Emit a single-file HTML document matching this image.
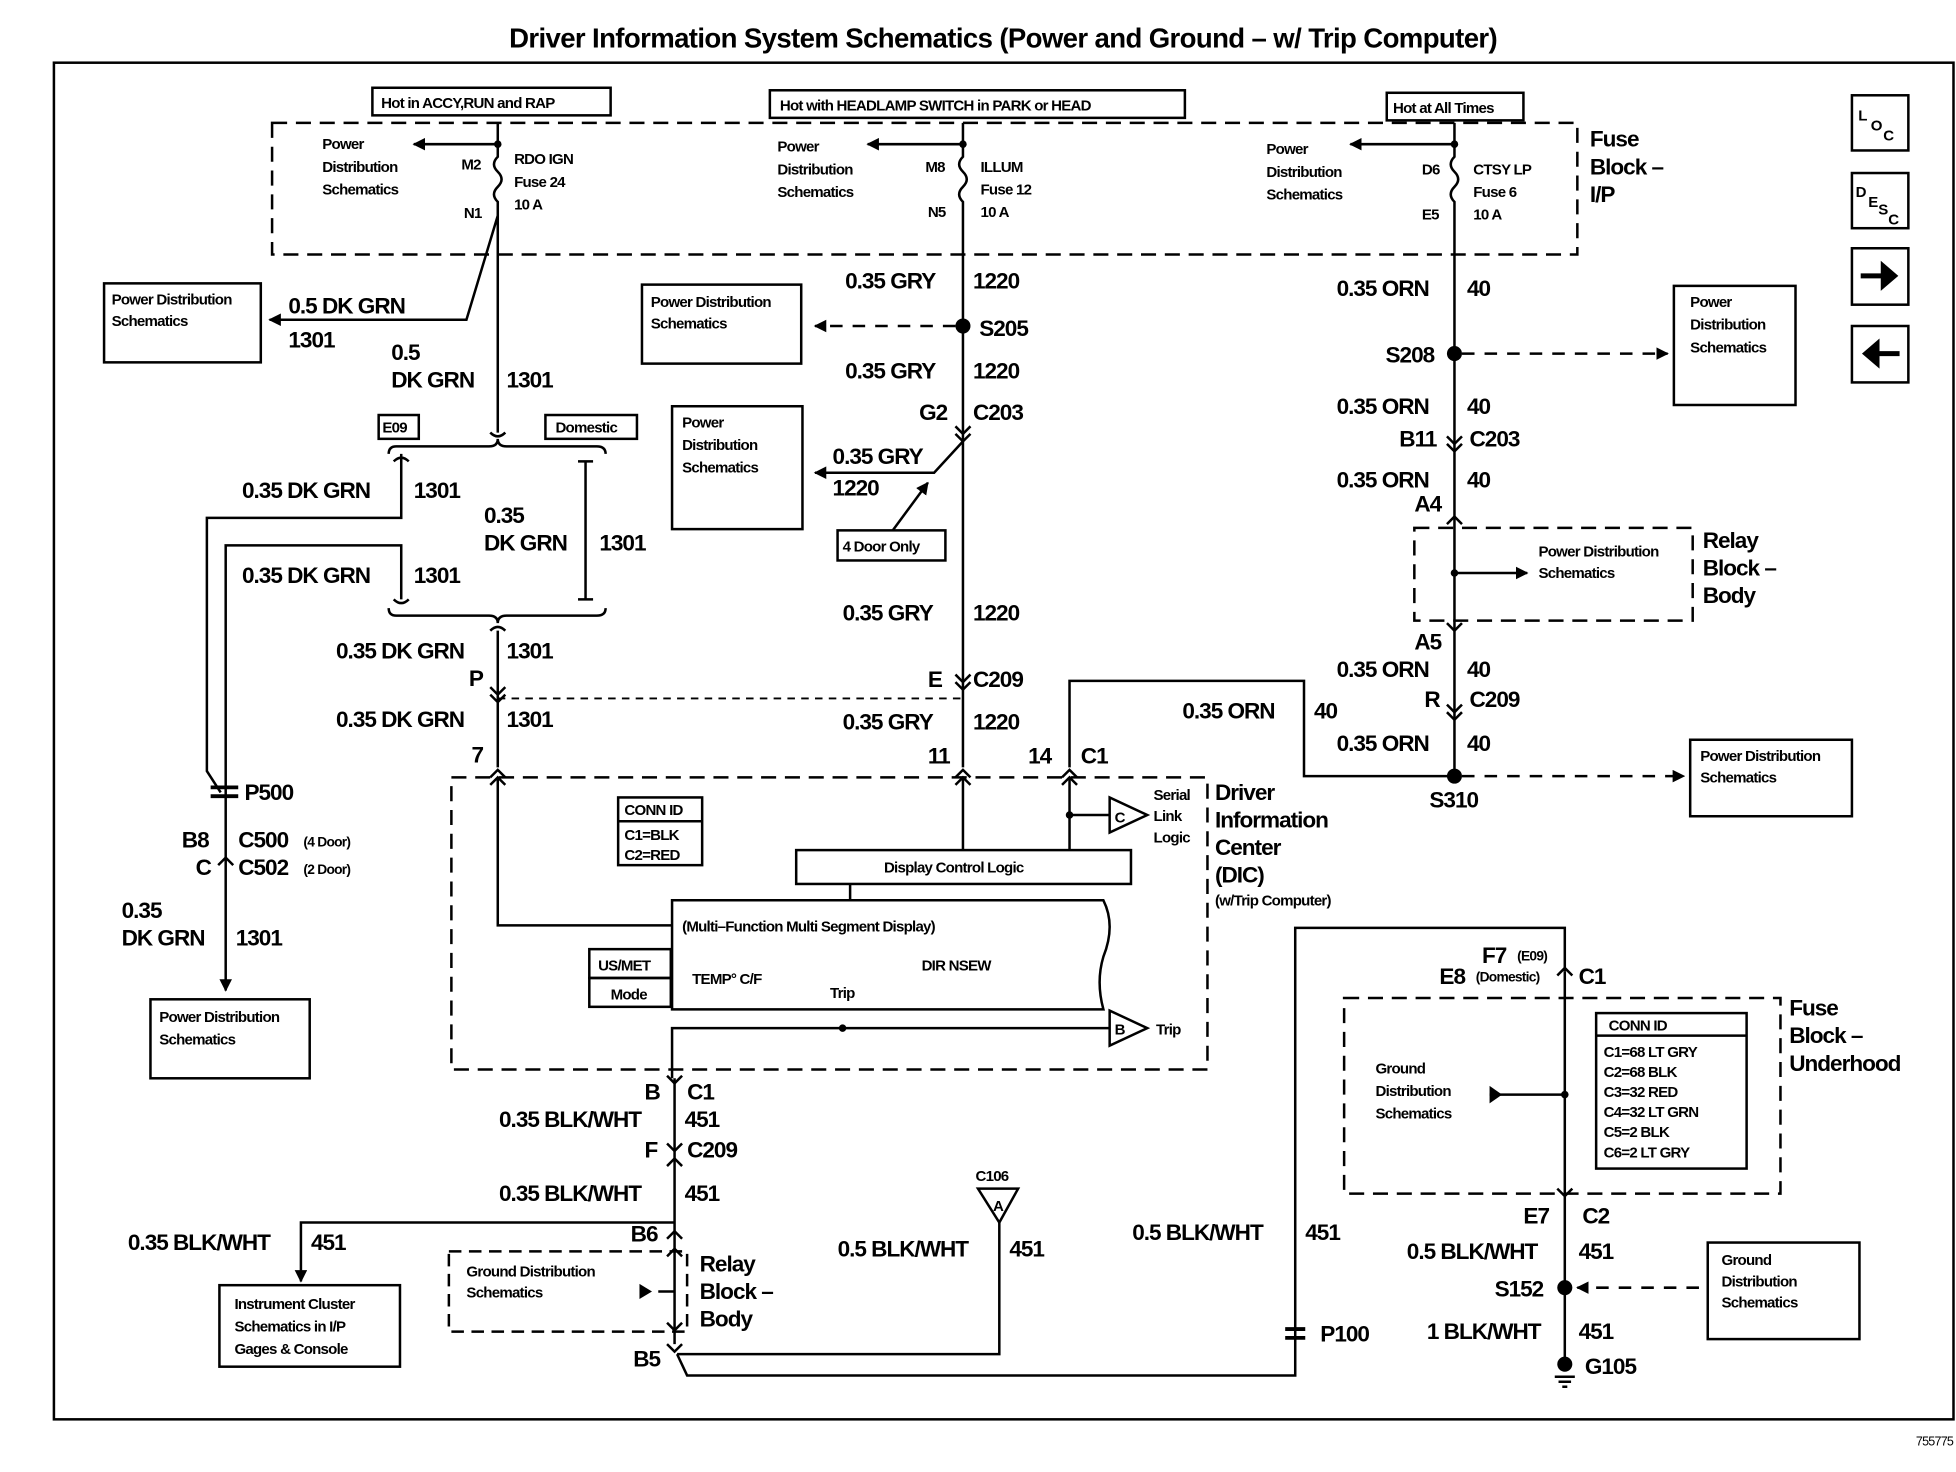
<!DOCTYPE html>
<html><head><meta charset="utf-8"><style>
html,body{margin:0;padding:0;background:#fff}
svg{display:block}
text{font-family:"Liberation Sans",sans-serif;fill:#000}
.b{font-weight:bold;font-size:18px;letter-spacing:-0.8px}
.s{font-size:12px;font-weight:bold;letter-spacing:-0.6px}
</style></head><body>
<svg width="1956" height="1472" viewBox="0 0 1560 1174" preserveAspectRatio="none" xmlns="http://www.w3.org/2000/svg">
<defs>
<marker id="ar" markerWidth="10" markerHeight="10" refX="9" refY="5" orient="auto" markerUnits="userSpaceOnUse"><path d="M0,0 L10,5 L0,10 z"/></marker>
</defs>
<g stroke="#000" stroke-width="2" fill="none">
<rect x="43" y="50" width="1515" height="1082"/>
<rect x="297" y="70" width="190" height="22"/>
<rect x="614" y="72" width="331" height="22"/>
<rect x="1106" y="74" width="109" height="22"/>
<rect x="217" y="98" width="1041" height="105" stroke-dasharray="12,7"/>
<path d="M397,98 V125 q-6,6 0,12 q6,6 0,12 q-6,6 0,12 V345"/>
<path d="M397,115 H330" marker-end="url(#ar)"/>
<path d="M397,172 L372,255 H215" marker-end="url(#ar)"/>
<rect x="83" y="226" width="125" height="63"/>
<path d="M768,98 V125 q-6,6 0,12 q6,6 0,12 q-6,6 0,12 V612"/>
<path d="M768,115 H692" marker-end="url(#ar)"/>
<path d="M762,260 H650" stroke-dasharray="10,8" marker-end="url(#ar)"/>
<rect x="512" y="227" width="127" height="63"/>
<path d="M762,340 l6,6 l6,-6 M762,346 l6,6 l6,-6"/>
<path d="M768,352 L745,377 H650" marker-end="url(#ar)"/>
<rect x="536" y="324" width="104" height="98"/>
<path d="M712,423 L740,385" marker-end="url(#ar)"/>
<rect x="668" y="423" width="86" height="24"/>
<path d="M1160,98 V125 q-6,6 0,12 q6,6 0,12 q-6,6 0,12 V618"/>
<path d="M1160,115 H1077" marker-end="url(#ar)"/>
<path d="M1166,282 H1330" stroke-dasharray="10,8" marker-end="url(#ar)"/>
<rect x="1335" y="228" width="97" height="95"/>
<path d="M1154,348 l6,6 l6,-6 M1154,354 l6,6 l6,-6"/>
<path d="M1154,418 l6,-6 l6,6"/>
<rect x="1128" y="421" width="222" height="74" stroke-dasharray="12,7"/>
<path d="M1160,457 H1218" marker-end="url(#ar)"/>
<path d="M1154,497 l6,6 l6,-6"/>
<path d="M1154,562 l6,6 l6,-6 M1154,568 l6,6 l6,-6"/>
<path d="M1166,619 H1343" stroke-dasharray="10,8" marker-end="url(#ar)"/>
<rect x="1348" y="590" width="129" height="61"/>
<path d="M853,612 V543 H1040 V619 H1160"/>
<rect x="302" y="331" width="32" height="19"/>
<rect x="435" y="331" width="73" height="19"/>
<path d="M391,345 q6,6 12,0"/>
<path d="M310,362 q0,-6 6,-6 H390 q7,0 7,-6 q0,6 7,6 H476 q7,0 7,6"/>
<path d="M320,362 V413 H165 V615 L176,632"/>
<path d="M314,368 q6,-6 12,0"/>
<path d="M320,478 V435 H180 V790" marker-end="url(#ar)"/>
<path d="M467,368 V478 M461,368 H473 M461,478 H473"/>
<path d="M314,478 q6,6 12,0"/>
<path d="M310,485 q0,6 6,6 H390 q7,0 7,6 q0,-6 7,-6 H476 q7,0 7,-6"/>
<path d="M391,503 q6,-6 12,0"/>
<path d="M397,503 V612"/>
<path d="M391,548 l6,6 l6,-6 M391,554 l6,6 l6,-6"/>
<path d="M397,557 H768" stroke-dasharray="6,5" stroke-width="1.5"/>
<path d="M762,538 l6,6 l6,-6 M762,544 l6,6 l6,-6"/>
<rect x="120" y="797" width="127" height="63"/>
<path d="M168,628 H190 M168,635 H190" stroke-width="3"/>
<path d="M174,690 l6,-6 l6,6"/>
<rect x="360" y="620" width="603" height="233" stroke-dasharray="12,7"/>
<path d="M391,626 l6,-6 l6,6 M762,626 l6,-6 l6,6 M847,626 l6,-6 l6,6 M762,620 l6,-6 l6,6 M847,620 l6,-6 l6,6 M391,620 l6,-6 l6,6"/>
<path d="M397,620 V738 H536"/>
<path d="M768,620 V678"/>
<path d="M853,620 V678 M853,650 H885"/>
<path d="M885,636 V664 L915,650 Z"/>
<rect x="635" y="678" width="267" height="27"/>
<path d="M678,705 V718"/>
<path d="M536,805 V718 H880 q10,20 0,45 q-6,20 0,42 Z"/>
<rect x="470" y="757" width="65" height="23"/><rect x="470" y="780" width="65" height="23"/>
<rect x="493" y="636" width="67" height="54"/><path d="M493,655 H560"/>
<path d="M885,806 V834 L915,820 Z"/>
<path d="M885,820 H536 V860"/>
<path d="M538,860 V1072"/>
<path d="M532,858 l6,6 l6,-6"/>
<path d="M532,912 l6,6 l6,-6 M532,930 l6,-6 l6,6"/>
<path d="M532,988 l6,-6 l6,6"/>
<path d="M538,975 H240 V1022" marker-end="url(#ar)"/>
<rect x="175" y="1025" width="144" height="65"/>
<rect x="358" y="998" width="190" height="64" stroke-dasharray="10,6"/>
<path d="M532,1002 l6,-6 l6,6 M532,1055 l6,6 l6,-6"/>
<path d="M538,1030 H525"/>
<path d="M532,1072 l6,6 l6,-6"/>
<path d="M540,1080 L548,1097 H1033 V740 H1248 V775"/>
<path d="M540,1080 H797 V975"/>
<path d="M780,948 H812 L797,975 Z"/>
<path d="M1025,1060 H1041 M1025,1067 H1041" stroke-width="3"/>
<path d="M1242,778 l6,-6 l6,6"/>
<rect x="1072" y="796" width="348" height="156" stroke-dasharray="12,7"/>
<path d="M1248,775 V1085"/>
<path d="M1248,873 H1188"/>
<rect x="1273" y="808" width="120" height="124"/><path d="M1273,826 H1393"/>
<path d="M1242,948 l6,6 l6,-6"/>
<path d="M1355,1027 H1258" stroke-dasharray="10,8" marker-end="url(#ar)"/>
<rect x="1362" y="991" width="121" height="77"/>
<path d="M1240,1098 H1256 M1243,1102 H1253 M1246,1106 H1250"/>
<rect x="1477" y="76" width="45" height="44"/><rect x="1477" y="138" width="45" height="44"/>
<rect x="1477" y="198" width="45" height="45"/><rect x="1477" y="260" width="45" height="45"/>
</g>
<g>
<circle cx="768" cy="260" r="6"/><circle cx="1160" cy="282" r="6"/><circle cx="1160" cy="619" r="6"/>
<circle cx="1248" cy="1027" r="6"/><circle cx="1248" cy="1088" r="6"/>
<circle cx="397" cy="115" r="3"/><circle cx="768" cy="115" r="3"/><circle cx="1160" cy="115" r="3"/>
<circle cx="1160" cy="457" r="3"/><circle cx="853" cy="650" r="3"/><circle cx="672" cy="820" r="3"/><circle cx="1248" cy="873" r="3"/>
<path d="M1188,866 L1198,873 L1188,880 Z"/><path d="M510,1024 L520,1030 L510,1036 Z"/>
<path d="M1484,218 H1500 V208 L1514,220 L1500,232 V222 H1484 Z"/>
<path d="M1515,280 H1499 V270 L1485,282 L1499,294 V284 H1515 Z"/>
</g>
<text x="800" y="38" text-anchor="middle" style="font-size:22px;font-weight:bold;letter-spacing:-0.5px">Driver Information System Schematics (Power and Ground – w/ Trip Computer)</text>
<g class="s">
<text x="304" y="86">Hot in ACCY,RUN and RAP</text>
<text x="622" y="88">Hot with HEADLAMP SWITCH in PARK or HEAD</text>
<text x="1111" y="90">Hot at All Times</text>
<text x="257" y="119">Power</text><text x="257" y="137">Distribution</text><text x="257" y="155">Schematics</text>
<text x="368" y="135">M2</text><text x="370" y="174">N1</text>
<text x="410" y="131">RDO IGN</text><text x="410" y="149">Fuse 24</text><text x="410" y="167">10 A</text>
<text x="620" y="121">Power</text><text x="620" y="139">Distribution</text><text x="620" y="157">Schematics</text>
<text x="738" y="137">M8</text><text x="740" y="173">N5</text>
<text x="782" y="137">ILLUM</text><text x="782" y="155">Fuse 12</text><text x="782" y="173">10 A</text>
<text x="1010" y="123">Power</text><text x="1010" y="141">Distribution</text><text x="1010" y="159">Schematics</text>
<text x="1134" y="139">D6</text><text x="1134" y="175">E5</text>
<text x="1175" y="139">CTSY LP</text><text x="1175" y="157">Fuse 6</text><text x="1175" y="175">10 A</text>
<text x="89" y="243">Power Distribution</text><text x="89" y="260">Schematics</text>
<text x="519" y="245">Power Distribution</text><text x="519" y="262">Schematics</text>
<text x="544" y="341">Power</text><text x="544" y="359">Distribution</text><text x="544" y="377">Schematics</text>
<text x="672" y="440">4 Door Only</text>
<text x="305" y="345">E09</text><text x="443" y="345">Domestic</text>
<text x="1348" y="245">Power</text><text x="1348" y="263">Distribution</text><text x="1348" y="281">Schematics</text>
<text x="1227" y="444">Power Distribution</text><text x="1227" y="461">Schematics</text>
<text x="1356" y="607">Power Distribution</text><text x="1356" y="624">Schematics</text>
<text x="127" y="815">Power Distribution</text><text x="127" y="833">Schematics</text>
<text x="498" y="650">CONN ID</text><text x="498" y="670">C1=BLK</text><text x="498" y="686">C2=RED</text>
<text x="705" y="696">Display Control Logic</text>
<text x="544" y="743">(Multi–Function Multi Segment Display)</text>
<text x="552" y="785">TEMP° C/F</text><text x="735" y="774">DIR NSEW</text><text x="662" y="796">Trip</text>
<text x="477" y="774">US/MET</text><text x="487" y="797">Mode</text>
<text x="920" y="638">Serial</text><text x="920" y="655">Link</text><text x="920" y="672">Logic</text>
<text x="889" y="656">C</text><text x="889" y="825">B</text><text x="922" y="825">Trip</text>
<text x="969" y="722">(w/Trip Computer)</text>
<text x="1283" y="822">CONN ID</text>
<text x="1279" y="843">C1=68 LT GRY</text><text x="1279" y="859">C2=68 BLK</text><text x="1279" y="875">C3=32 RED</text>
<text x="1279" y="891">C4=32 LT GRN</text><text x="1279" y="907">C5=2 BLK</text><text x="1279" y="923">C6=2 LT GRY</text>
<text x="1097" y="856">Ground</text><text x="1097" y="874">Distribution</text><text x="1097" y="892">Schematics</text>
<text x="1373" y="1009">Ground</text><text x="1373" y="1026">Distribution</text><text x="1373" y="1043">Schematics</text>
<text x="372" y="1018">Ground Distribution</text><text x="372" y="1035">Schematics</text>
<text x="187" y="1044">Instrument Cluster</text><text x="187" y="1062">Schematics in I/P</text><text x="187" y="1080">Gages &amp; Console</text>
<text x="778" y="942">C106</text><text x="792" y="966">A</text>
<text x="1210" y="766" style="font-size:11px">(E09)</text><text x="1177" y="783" style="font-size:11px">(Domestic)</text>
<text x="242" y="675" style="font-size:11px">(4 Door)</text><text x="242" y="697" style="font-size:11px">(2 Door)</text>
<text x="1528" y="1153" style="font-size:10px;font-weight:normal">755775</text>
<text x="1482" y="96">L</text><text x="1492" y="104">O</text><text x="1502" y="112">C</text>
<text x="1480" y="157">D</text><text x="1490" y="165">E</text><text x="1498" y="171">S</text><text x="1506" y="179">C</text>
</g>
<g class="b">
<text x="1268" y="117">Fuse</text><text x="1268" y="139">Block –</text><text x="1268" y="161">I/P</text>
<text x="230" y="250">0.5 DK GRN</text><text x="230" y="277">1301</text>
<text x="312" y="287">0.5</text><text x="312" y="309">DK GRN</text><text x="404" y="309">1301</text>
<text x="674" y="230">0.35 GRY</text><text x="776" y="230">1220</text>
<text x="781" y="268">S205</text>
<text x="674" y="302">0.35 GRY</text><text x="776" y="302">1220</text>
<text x="733" y="335">G2</text><text x="776" y="335">C203</text>
<text x="664" y="370">0.35 GRY</text><text x="664" y="395">1220</text>
<text x="672" y="495">0.35 GRY</text><text x="776" y="495">1220</text>
<text x="740" y="548">E</text><text x="776" y="548">C209</text>
<text x="672" y="582">0.35 GRY</text><text x="776" y="582">1220</text>
<text x="740" y="609">11</text><text x="820" y="609">14</text><text x="862" y="609">C1</text>
<text x="193" y="397">0.35 DK GRN</text><text x="330" y="397">1301</text>
<text x="386" y="417">0.35</text><text x="386" y="439">DK GRN</text><text x="478" y="439">1301</text>
<text x="193" y="465">0.35 DK GRN</text><text x="330" y="465">1301</text>
<text x="268" y="525">0.35 DK GRN</text><text x="404" y="525">1301</text>
<text x="374" y="547">P</text>
<text x="268" y="580">0.35 DK GRN</text><text x="404" y="580">1301</text>
<text x="376" y="608">7</text>
<text x="195" y="638">P500</text>
<text x="145" y="676">B8</text><text x="190" y="676">C500</text>
<text x="156" y="698">C</text><text x="190" y="698">C502</text>
<text x="97" y="732">0.35</text><text x="97" y="754">DK GRN</text><text x="188" y="754">1301</text>
<text x="1066" y="236">0.35 ORN</text><text x="1170" y="236">40</text>
<text x="1105" y="289">S208</text>
<text x="1066" y="330">0.35 ORN</text><text x="1170" y="330">40</text>
<text x="1116" y="356">B11</text><text x="1172" y="356">C203</text>
<text x="1066" y="389">0.35 ORN</text><text x="1170" y="389">40</text>
<text x="1128" y="408">A4</text>
<text x="1358" y="437">Relay</text><text x="1358" y="459">Block –</text><text x="1358" y="481">Body</text>
<text x="1128" y="518">A5</text>
<text x="1066" y="540">0.35 ORN</text><text x="1170" y="540">40</text>
<text x="1136" y="564">R</text><text x="1172" y="564">C209</text>
<text x="943" y="573">0.35 ORN</text><text x="1048" y="573">40</text>
<text x="1066" y="599">0.35 ORN</text><text x="1170" y="599">40</text>
<text x="1140" y="644">S310</text>
<text x="969" y="638">Driver</text><text x="969" y="660">Information</text><text x="969" y="682">Center</text><text x="969" y="704">(DIC)</text>
<text x="514" y="877">B</text><text x="548" y="877">C1</text>
<text x="398" y="899">0.35 BLK/WHT</text><text x="546" y="899">451</text>
<text x="514" y="923">F</text><text x="548" y="923">C209</text>
<text x="398" y="958">0.35 BLK/WHT</text><text x="546" y="958">451</text>
<text x="503" y="990">B6</text>
<text x="102" y="997">0.35 BLK/WHT</text><text x="248" y="997">451</text>
<text x="558" y="1014">Relay</text><text x="558" y="1036">Block –</text><text x="558" y="1058">Body</text>
<text x="505" y="1090">B5</text>
<text x="668" y="1002">0.5 BLK/WHT</text><text x="805" y="1002">451</text>
<text x="903" y="989">0.5 BLK/WHT</text><text x="1041" y="989">451</text>
<text x="1053" y="1070">P100</text>
<text x="1182" y="768">F7</text><text x="1148" y="785">E8</text><text x="1259" y="785">C1</text>
<text x="1427" y="810">Fuse</text><text x="1427" y="832">Block –</text><text x="1427" y="854">Underhood</text>
<text x="1215" y="976">E7</text><text x="1262" y="976">C2</text>
<text x="1122" y="1004">0.5 BLK/WHT</text><text x="1259" y="1004">451</text>
<text x="1192" y="1034">S152</text>
<text x="1138" y="1068">1 BLK/WHT</text><text x="1259" y="1068">451</text>
<text x="1264" y="1096">G105</text>
</g>
</svg>
</body></html>
